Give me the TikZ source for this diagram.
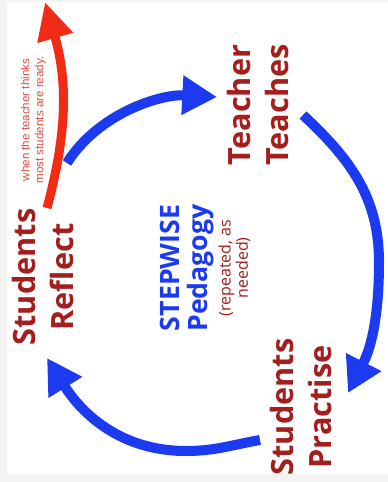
\documentclass[tikz,border=0pt]{standalone}
\usepackage{fontspec}
\setmainfont{Open Sans}
\newfontfamily\notefont{Liberation Sans}
\usetikzlibrary{positioning,arrows.meta}
\definecolor{stepred}{RGB}{165,30,30}
\definecolor{stepblue}{RGB}{28,58,240}
\definecolor{exitred}{RGB}{240,45,20}
\definecolor{notered}{RGB}{225,75,60}
\definecolor{margingray}{RGB}{244,244,242}

\begin{document}
\begin{tikzpicture}[x=0.75pt,y=0.75pt,
  stage/.style={rotate=90,align=center,inner sep=0pt,text=stepred,
                font=\fontsize{23}{29}\selectfont\bfseries},
  roundarrow/.style={-{Triangle[length=26pt,width=28pt]},stepblue,line width=7.5pt},
  leavearrow/.style={-{Triangle[length=28pt,width=26pt]},exitred,line width=6.75pt}
]
\fill[margingray] (0,0) rectangle (388,482);
\fill[white] (7,8) rectangle (388,480);
\useasboundingbox (0,0) rectangle (388,482);
\node[stage] (teach) at (258,377) {Teacher\\Teaches};
\node[stage] (practise) at (301,75) {Students\\Practise};
\node[stage] (reflect) at (43,205) {Students\\Reflect};
\node[rotate=90,align=center,inner sep=0pt,text=stepblue,
      font=\fontsize{20}{21}\selectfont\bfseries] (title) at (187,214) {STEPWISE\\Pedagogy};
\node[rotate=90,anchor=north,align=center,inner sep=0pt,text=stepred,
      font=\fontsize{12}{13}\selectfont] (note) at ([xshift=3pt]title.south) {(repeated, as\\needed)};
\node[rotate=90,align=center,inner sep=0pt,text=notered,
      font=\notefont\fontsize{8.7}{10.5}\selectfont] (when) at (33.5,362) {when the teacher thinks\\most students are ready.};
\coordinate (r1) at (67,319);
\coordinate (t1) at (217,385);
\coordinate (t2) at (303,367);
\coordinate (side) at (379,220);
\coordinate (p1) at (348,89);
\coordinate (p2) at (260,42);
\coordinate (low) at (186,31);
\coordinate (r2) at (47,124);
\coordinate (r3) at (47,274);
\coordinate (done) at (45,480);
\draw[roundarrow] (r1) to[out=58,in=177,looseness=0.9] (t1);
\draw[roundarrow] (t2) to[out=-43,in=90] (side) to[out=-90,in=63] (p1);
\draw[roundarrow] (p2) to[out=190,in=0] (low) to[out=180,in=-58] (r2);
\draw[leavearrow] (r3) to[out=75,in=-74] (done);
\end{tikzpicture}
\end{document}
